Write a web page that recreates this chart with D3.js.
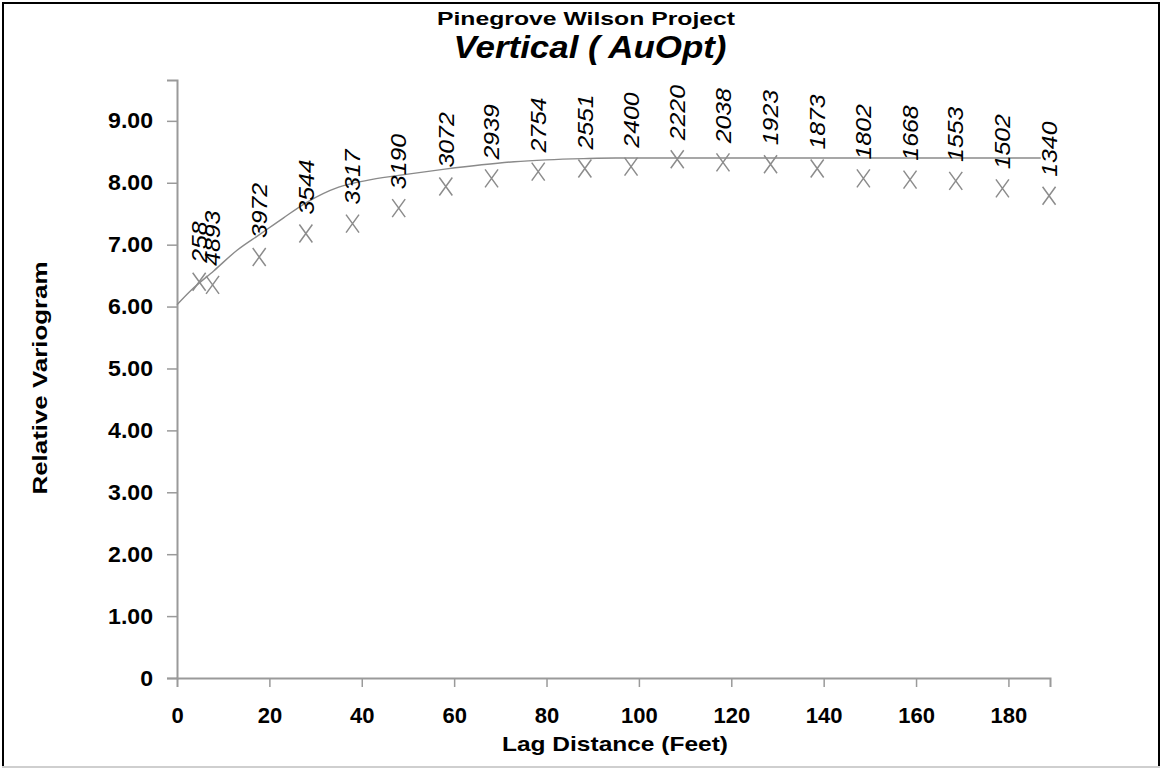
<!DOCTYPE html>
<html>
<head>
<meta charset="utf-8">
<script src="https://cdn.jsdelivr.net/npm/d3@7"></script>
<style>
  html, body { margin: 0; padding: 0; background: #fff; }
  svg { display: block; }
  text { font-family: Arial, "Liberation Sans", sans-serif; fill: #000; }
</style>
</head>
<body>
<svg id="chart" width="1164" height="770"></svg>
<script>
// Experimental variogram: lag centre (feet), relative variogram value, pair count
const lags = [4.8, 7.7, 17.8, 27.9, 38.0, 48.0, 58.2, 68.1, 78.2, 88.3, 98.3, 108.3, 118.2, 128.5, 138.6, 148.6, 158.7, 168.6, 178.7, 188.8];
const gammas = [6.40, 6.35, 6.80, 7.18, 7.34, 7.59, 7.94, 8.07, 8.18, 8.23, 8.26, 8.38, 8.33, 8.30, 8.23, 8.07, 8.05, 8.03, 7.91, 7.79];
const pairs = [258, 4893, 3972, 3544, 3317, 3190, 3072, 2939, 2754, 2551, 2400, 2220, 2038, 1923, 1873, 1802, 1668, 1553, 1502, 1340];

// Fitted model curve (nugget + structure reaching the sill)
const modelLag = [0, 3, 8, 13, 18, 23, 28, 35, 42, 50, 58, 66, 73, 80, 88, 95, 187];
const modelGamma = [6.03, 6.26, 6.58, 6.91, 7.17, 7.43, 7.68, 7.93, 8.05, 8.14, 8.22, 8.29, 8.34, 8.37, 8.39, 8.40, 8.40];

// Axis ticks
const xTicks = [0, 20, 40, 60, 80, 100, 120, 140, 160, 180];
const yTicks = [0, 1, 2, 3, 4, 5, 6, 7, 8, 9];

const svg = d3.select("#chart");
const FONT = "Arial, 'Liberation Sans', sans-serif";

// widen a text selection along its reading direction by a factor
function widen(sel, k) {
  sel.each(function () {
    const w = this.getComputedTextLength();
    d3.select(this).attr("textLength", w * k).attr("lengthAdjust", "spacingAndGlyphs");
  });
}

// outer frame
svg.append("rect").attr("x", 3).attr("y", 3).attr("width", 1156).attr("height", 764)
  .attr("fill", "none").attr("stroke", "#000").attr("stroke-width", 2);
svg.append("line").attr("x1", 2).attr("x2", 1160).attr("y1", 767).attr("y2", 767)
  .attr("stroke", "#cfcfcf").attr("stroke-width", 2);

const x = d3.scaleLinear().domain([0, 189]).range([177, 1050]);
const y = d3.scaleLinear().domain([0, 9.66]).range([678, 80]);

const axisColor = "#9a9a9a";

// x axis
const gx = svg.append("g").attr("transform", `translate(0,${y(0)})`)
  .call(d3.axisBottom(x).tickValues(xTicks).tickFormat(d3.format("d")).tickSize(9).tickPadding(20));
gx.select(".domain").attr("stroke", axisColor).attr("stroke-width", 2);
gx.selectAll(".tick line").attr("stroke", axisColor).attr("stroke-width", 1.5)
  .filter(d => d === 0).remove();
gx.selectAll(".tick text").attr("font-size", 22).attr("font-weight", "bold")
  .attr("font-family", FONT).attr("fill", "#000");

// y axis
const gy = svg.append("g").attr("transform", `translate(${x(0)},0)`)
  .call(d3.axisLeft(y).tickValues(yTicks).tickFormat(d => d === 0 ? "0" : d3.format(".2f")(d)).tickSize(10).tickPadding(14));
gy.select(".domain").attr("stroke", axisColor).attr("stroke-width", 2);
gy.selectAll(".tick line").attr("stroke", axisColor).attr("stroke-width", 1.5);
gy.selectAll(".tick text").attr("font-size", 22).attr("font-weight", "bold")
  .attr("font-family", FONT).attr("fill", "#000");
widen(gy.selectAll(".tick text"), 1.05);

// model curve
const modelPts = modelLag.map((d, i) => [d, modelGamma[i]]);
svg.append("path")
  .attr("d", d3.line().x(d => x(d[0])).y(d => y(d[1])).curve(d3.curveMonotoneX)(modelPts))
  .attr("fill", "none").attr("stroke", "#8a8a8a").attr("stroke-width", 1.4);

// experimental points as X markers
const pts = lags.map((d, i) => ({ lag: d, g: gammas[i], n: pairs[i] }));
const mw = 6.5, mh = 9;
svg.append("g").selectAll("path.mark").data(pts).join("path")
  .attr("class", "mark")
  .attr("d", d => {
    const cx = x(d.lag), cy = y(d.g);
    return `M${cx - mw},${cy - mh}L${cx + mw},${cy + mh}M${cx - mw},${cy + mh}L${cx + mw},${cy - mh}`;
  })
  .attr("fill", "none").attr("stroke", "#8c8c8c").attr("stroke-width", 1.5);

// pair counts, rotated above each point
svg.append("g").selectAll("text").data(pts).join("text")
  .attr("transform", d => `translate(${x(d.lag)},${y(d.g) - 19}) rotate(-90)`)
  .attr("dy", "0.35em")
  .attr("font-size", 22).attr("font-style", "italic").attr("fill", "#111")
  .attr("textLength", d => String(d.n).length * 13.8)
  .attr("lengthAdjust", "spacingAndGlyphs")
  .text(d => d.n);

// titles
svg.append("text").attr("x", 586).attr("y", 25).attr("text-anchor", "middle")
  .attr("font-size", 19).attr("font-weight", "bold")
  .attr("textLength", 298).attr("lengthAdjust", "spacingAndGlyphs")
  .text("Pinegrove Wilson Project");
svg.append("text").attr("x", 590).attr("y", 58).attr("text-anchor", "middle")
  .attr("font-size", 31).attr("font-weight", "bold").attr("font-style", "italic")
  .attr("textLength", 273).attr("lengthAdjust", "spacingAndGlyphs")
  .text("Vertical ( AuOpt)");

// axis titles
svg.append("text").attr("x", 615).attr("y", 751).attr("text-anchor", "middle")
  .attr("font-size", 21).attr("font-weight", "bold")
  .attr("textLength", 226).attr("lengthAdjust", "spacingAndGlyphs")
  .text("Lag Distance (Feet)");
svg.append("text").attr("transform", "translate(47,378) rotate(-90)").attr("text-anchor", "middle")
  .attr("font-size", 21).attr("font-weight", "bold")
  .attr("textLength", 233).attr("lengthAdjust", "spacingAndGlyphs")
  .text("Relative Variogram");
</script>
</body>
</html>
